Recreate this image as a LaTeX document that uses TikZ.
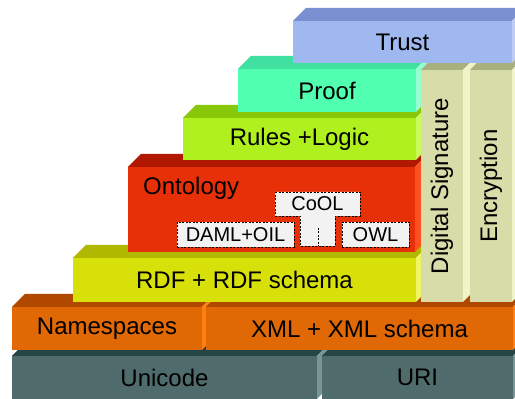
\documentclass[tikz,border=0pt]{standalone}
\usepackage{fontspec}
\setmainfont{Liberation Sans}
\usetikzlibrary{positioning}

\definecolor{uni}{RGB}{80,107,107}
\definecolor{unitop}{RGB}{38,70,70}
\definecolor{uniside}{RGB}{120,150,150}
\definecolor{xml}{RGB}{224,104,5}
\definecolor{xmltop}{RGB}{176,72,0}
\definecolor{xmlside}{RGB}{255,128,16}
\definecolor{rdf}{RGB}{216,224,10}
\definecolor{rdftop}{RGB}{176,184,0}
\definecolor{rdfside}{RGB}{240,245,100}
\definecolor{onto}{RGB}{232,48,8}
\definecolor{ontotop}{RGB}{176,24,0}
\definecolor{ontoside}{RGB}{255,80,32}
\definecolor{rules}{RGB}{176,240,30}
\definecolor{rulestop}{RGB}{136,200,10}
\definecolor{rulesside}{RGB}{200,250,90}
\definecolor{proof}{RGB}{80,255,176}
\definecolor{prooftop}{RGB}{64,224,160}
\definecolor{proofside}{RGB}{150,255,210}
\definecolor{trust}{RGB}{160,184,240}
\definecolor{trusttop}{RGB}{120,144,208}
\definecolor{trustside}{RGB}{190,205,245}
\definecolor{col}{RGB}{216,220,168}
\definecolor{coltop}{RGB}{168,176,128}
\definecolor{colside}{RGB}{240,244,200}
\definecolor{tag}{RGB}{242,242,242}

\tikzset{
  layer/.style={inner sep=0pt, font=\fontsize{24}{28}\selectfont},
  tagbox/.style={draw, fill=tag, line width=0.6pt, dash pattern=on 2pt off 1.5pt,
    inner sep=0pt, font=\fontsize{20}{24}\selectfont},
}

% name, x1, y1, x2, y2, colour, text
\newcommand{\slab}[7]{
  \fill[#6top] (#2,#5) -- ++(13,13) -- (#4+13,#5+13) -- (#4,#5) -- cycle;
  \fill[#6side] (#4,#3) -- ++(13,13) -- (#4+13,#5+13) -- (#4,#5) -- cycle;
  \node[layer, fill=#6, minimum width=#4-#2, minimum height=#5-#3]
    (#1) at ({(#2+#4)/2},{(#3+#5)/2}) {#7};
}

\begin{document}
\begin{tikzpicture}[x=1pt, y=1pt]
\useasboundingbox (0,0) rectangle (515,399);
\clip (0,0) rectangle (515,399);

\slab{unicode}{12}{0}{317}{43}{uni}{Unicode}
\slab{uri}{322}{0}{513}{43}{uni}{URI}
\slab{ns}{12}{49}{202}{92}{xml}{Namespaces}
\slab{xmls}{206}{49}{513}{92}{xml}{XML + XML schema}
\slab{rdfs}{73}{97}{416}{141}{rdf}{RDF + RDF schema}
\slab{ontology}{128}{147}{415}{232}{onto}{}
\slab{logic}{183}{239}{416}{281}{rules}{Rules +Logic}
\slab{prf}{238}{287}{416}{330}{proof}{Proof}
\slab{sig}{421}{97}{463}{329}{col}{}
\slab{enc}{470}{97}{512}{329}{col}{}
\slab{tru}{293}{336}{512}{378}{trust}{Trust}

\node[layer, rotate=90] (sigtext) at (sig) {Digital Signature};
\node[layer, rotate=90] (enctext) at (enc) {Encryption};
\node[layer, anchor=base west] (ontotext) at (143,204) {Ontology};

\node[tagbox, minimum width=117, minimum height=25] (daml) at (235.5,164.5) {DAML+OIL};
\node[tagbox, minimum width=67, minimum height=25] (owl) at (375.5,164.5) {OWL};
\draw[fill=tag, line width=0.6pt, dash pattern=on 2pt off 1.5pt]
  (275,207) -- (360,207) -- (360,183) -- (335,183) -- (335,153)
  -- (300,153) -- (300,183) -- (275,183) -- cycle;
\node[layer, font=\fontsize{20}{24}\selectfont] (cool) at (317.5,195) {CoOL};
\coordinate (stemtop) at (318,171);
\coordinate (stembot) at (318,153);
\draw[line width=0.6pt, dash pattern=on 2pt off 1.5pt] (stemtop) -- (stembot);
\end{tikzpicture}
\end{document}
